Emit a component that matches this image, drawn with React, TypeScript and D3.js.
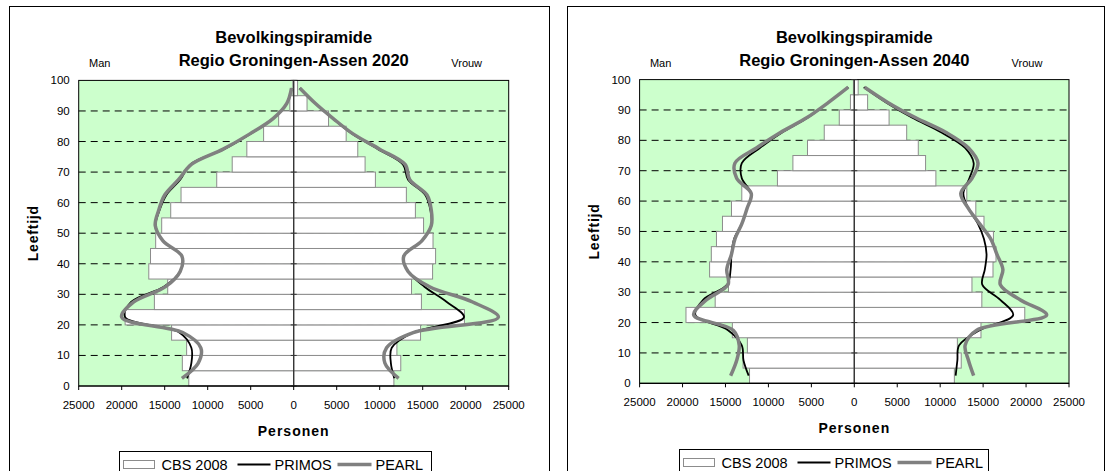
import React from 'react';
import * as d3 from 'd3';

// ---------- data ----------
const ageGroupStarts = [0, 5, 10, 15, 20, 25, 30, 35, 40, 45, 50, 55, 60, 65, 70, 75, 80, 85, 90, 95];
const ageMidpoints = [2.5, 7.5, 12.5, 17.5, 22.5, 27.5, 32.5, 37.5, 42.5, 47.5, 52.5, 57.5, 62.5, 67.5, 72.5, 77.5, 82.5, 87.5, 92.5, 97.5];
const xTickValues = [-25000, -20000, -15000, -10000, -5000, 0, 5000, 10000, 15000, 20000, 25000];
const yTickValues = [0, 10, 20, 30, 40, 50, 60, 70, 80, 90, 100];

// CBS 2008 (bars), persons per 5-year group
const cbsMale = [12200, 12950, 12450, 14200, 19600, 16200, 14650, 16850, 16650, 16050, 15350, 14300, 13100, 8950, 7150, 5450, 3500, 1750, 450, 100];
const cbsFemale = [11650, 12450, 12000, 14750, 19850, 14850, 13700, 16150, 16500, 16200, 15100, 14150, 13100, 9500, 8300, 7450, 6100, 4050, 1550, 450];

// 2020 projections
const primosMale2020 = [12400, 11900, 11900, 13300, 19600, 18900, 15100, 13200, 13000, 15200, 16050, 15600, 14800, 13200, 12000, 8100, 5050, 2400, 800, 200];
const pearlMale2020 = [13000, 11100, 10800, 12900, 20000, 18600, 14900, 13200, 13000, 15200, 16100, 15700, 15000, 13400, 11900, 8200, 5100, 2400, 800, 250];
const primosFemale2020 = [11700, 11300, 11400, 13900, 19800, 17800, 15200, 13300, 12800, 14900, 16000, 15900, 15300, 13300, 12700, 9800, 6800, 4550, 2500, 700];
const pearlFemale2020 = [12200, 10600, 10800, 13900, 23800, 20800, 15800, 13300, 12800, 14900, 16000, 16000, 15500, 13500, 12950, 10000, 6900, 4600, 2500, 700];

// 2040 projections
const primosMale2040 = [12300, 12900, 13100, 14700, 18500, 17600, 14800, 14400, 14300, 14000, 13100, 12500, 12000, 13100, 13100, 11000, 8450, 5400, 3000, 700];
const pearlMale2040 = [14400, 13700, 13400, 14100, 18700, 17200, 14700, 14850, 14300, 13900, 13100, 12500, 12000, 13700, 13900, 11400, 8650, 5500, 3000, 700];
const primosFemale2040 = [11800, 12000, 12200, 14600, 18500, 17000, 14900, 15200, 15400, 15100, 14400, 13300, 12700, 13400, 13900, 12900, 10200, 6700, 3700, 1100];
const pearlFemale2040 = [13900, 13300, 12900, 14250, 22400, 19300, 17000, 17300, 16600, 15900, 14600, 13300, 12400, 13700, 14400, 13300, 10750, 7100, 3900, 1200];

const titleLine1 = 'Bevolkingspiramide';
const legendLabels = ['CBS 2008', 'PRIMOS', 'PEARL'];

// ---------- styles ----------
const FONT = '"Liberation Sans", Arial, sans-serif';
const PLOT_BG = '#CCFFCC';
const BAR_STROKE = '#8c8c8c';
const PEARL_COLOR = '#808080';

type Layout = {
  panelLeft: number; panelRight: number; panelTop: number;
  plotLeft: number; plotRight: number; plotTop: number; plotBottom: number;
  legendLeft: number; legendWidth: number; legendTop: number;
};

function Pyramid({ year, layout, primosM, pearlM, primosF, pearlF }: {
  year: string; layout: Layout; primosM: number[]; pearlM: number[]; primosF: number[]; pearlF: number[];
}) {
  const L = layout;
  const x = d3.scaleLinear().domain([-25000, 25000]).range([L.plotLeft, L.plotRight]);
  const y = d3.scaleLinear().domain([0, 100]).range([L.plotBottom, L.plotTop]);
  const cx = x(0);
  const lineGen = d3.line<[number, number]>()
    .x(d => x(d[0]))
    .y(d => y(d[1]))
    .curve(d3.curveCatmullRom.alpha(0.5));
  const toPts = (vals: number[], sign: number): [number, number][] =>
    vals.map((v, i) => [sign * v, ageMidpoints[i]]);

  const plotMidY = (L.plotTop + L.plotBottom) / 2;
  const legY = L.legendTop;
  const lg = L.legendLeft;

  return (
    <g>
      {/* panel border */}
      <rect x={L.panelLeft} y={L.panelTop} width={L.panelRight - L.panelLeft} height={500}
        fill="#fff" stroke="#000" strokeWidth={1} />

      {/* titles */}
      <text x={cx} y={43} textAnchor="middle" fontFamily={FONT} fontWeight="bold" fontSize={16.5}>{titleLine1}</text>
      <text x={cx} y={66} textAnchor="middle" fontFamily={FONT} fontWeight="bold" fontSize={16.5}>{`Regio Groningen-Assen ${year}`}</text>
      <text x={L.plotLeft + 21} y={67} textAnchor="middle" fontFamily={FONT} fontSize={11}>Man</text>
      <text x={L.plotRight - 42} y={67} textAnchor="middle" fontFamily={FONT} fontSize={11}>Vrouw</text>

      {/* plot area */}
      <rect x={L.plotLeft} y={L.plotTop} width={L.plotRight - L.plotLeft} height={L.plotBottom - L.plotTop}
        fill={PLOT_BG} />

      {/* dashed grid */}
      {yTickValues.filter(t => t > 0 && t < 100).map(t => (
        <line key={`g${t}`} x1={L.plotLeft} x2={L.plotRight} y1={y(t)} y2={y(t)}
          stroke="#000" strokeWidth={1} strokeDasharray="7 5" />
      ))}

      {/* bars */}
      {ageGroupStarts.map((a, i) => (
        <g key={`b${a}`}>
          <rect x={x(-cbsMale[i])} y={y(a + 5)} width={cx - x(-cbsMale[i])} height={y(a) - y(a + 5)}
            fill="#fff" stroke={BAR_STROKE} strokeWidth={1} />
          <rect x={cx} y={y(a + 5)} width={x(cbsFemale[i]) - cx} height={y(a) - y(a + 5)}
            fill="#fff" stroke={BAR_STROKE} strokeWidth={1} />
        </g>
      ))}

      {/* plot border */}
      <rect x={L.plotLeft} y={L.plotTop} width={L.plotRight - L.plotLeft} height={L.plotBottom - L.plotTop}
        fill="none" stroke="#000" strokeWidth={1} />

      {/* center axis */}
      <line x1={cx} x2={cx} y1={L.plotTop} y2={L.plotBottom} stroke="#333" strokeWidth={1.3} />
      {yTickValues.map(t => (
        <line key={`ct${t}`} x1={cx - 3} x2={cx + 3} y1={y(t)} y2={y(t)} stroke="#333" strokeWidth={1} />
      ))}

      {/* lines: PRIMOS below, PEARL on top */}
      <path d={lineGen(toPts(primosM, -1)) || ''} fill="none" stroke="#000" strokeWidth={1.8} strokeLinejoin="round" />
      <path d={lineGen(toPts(primosF, 1)) || ''} fill="none" stroke="#000" strokeWidth={1.8} strokeLinejoin="round" />
      <path d={lineGen(toPts(pearlM, -1)) || ''} fill="none" stroke={PEARL_COLOR} strokeWidth={3.5} strokeLinejoin="round" />
      <path d={lineGen(toPts(pearlF, 1)) || ''} fill="none" stroke={PEARL_COLOR} strokeWidth={3.5} strokeLinejoin="round" />

      {/* x axis */}
      <line x1={L.plotLeft} x2={L.plotRight} y1={L.plotBottom} y2={L.plotBottom} stroke="#000" strokeWidth={1.2} />
      {xTickValues.map(t => (
        <g key={`xt${t}`}>
          <line x1={x(t)} x2={x(t)} y1={L.plotBottom} y2={L.plotBottom + 4} stroke="#000" strokeWidth={1} />
          <text x={x(t)} y={L.plotBottom + 23} textAnchor="middle" fontFamily={FONT} fontSize={11.5}>{Math.abs(t)}</text>
        </g>
      ))}

      {/* y tick labels */}
      {yTickValues.map(t => (
        <text key={`yt${t}`} x={L.plotLeft - 9} y={y(t) + 4} textAnchor="end" fontFamily={FONT} fontSize={11.5}>{t}</text>
      ))}

      {/* axis titles */}
      <text x={cx} y={L.plotBottom + 50} textAnchor="middle" fontFamily={FONT} fontWeight="bold" fontSize={14} letterSpacing={1}>Personen</text>
      <text transform={`translate(${L.plotLeft - 41},${plotMidY}) rotate(-90)`} textAnchor="middle"
        fontFamily={FONT} fontWeight="bold" fontSize={14} letterSpacing={0.8}>Leeftijd</text>

      {/* legend */}
      <rect x={lg} y={legY} width={L.legendWidth} height={40} fill="#fff" stroke="#000" strokeWidth={1} />
      <rect x={lg + 4} y={legY + 9} width={31} height={8} fill="#fff" stroke={BAR_STROKE} strokeWidth={1} />
      <text x={lg + 42} y={legY + 18} fontFamily={FONT} fontSize={14.5}>{legendLabels[0]}</text>
      <line x1={lg + 118} x2={lg + 151} y1={legY + 13} y2={legY + 13} stroke="#000" strokeWidth={2} />
      <text x={lg + 155} y={legY + 18} fontFamily={FONT} fontSize={14.5}>{legendLabels[1]}</text>
      <line x1={lg + 218} x2={lg + 252} y1={legY + 13} y2={legY + 13} stroke={PEARL_COLOR} strokeWidth={3.5} />
      <text x={lg + 256} y={legY + 18} fontFamily={FONT} fontSize={14.5}>{legendLabels[2]}</text>
    </g>
  );
}

const leftLayout: Layout = {
  panelLeft: 9.5, panelRight: 549.5, panelTop: 6.5,
  plotLeft: 78.7, plotRight: 508.7, plotTop: 80.4, plotBottom: 386,
  legendLeft: 119.5, legendWidth: 312, legendTop: 451.5,
};
const rightLayout: Layout = {
  panelLeft: 567.5, panelRight: 1104.5, panelTop: 6.5,
  plotLeft: 639.6, plotRight: 1069, plotTop: 79.6, plotBottom: 383.3,
  legendLeft: 679.5, legendWidth: 309, legendTop: 449.5,
};

export default function App() {
  return (
    <svg width={1112} height={471} style={{ position: 'absolute', left: 0, top: 0, background: '#fff' }}>
      <Pyramid year="2020" layout={leftLayout}
        primosM={primosMale2020} pearlM={pearlMale2020} primosF={primosFemale2020} pearlF={pearlFemale2020} />
      <Pyramid year="2040" layout={rightLayout}
        primosM={primosMale2040} pearlM={pearlMale2040} primosF={primosFemale2040} pearlF={pearlFemale2040} />
    </svg>
  );
}
